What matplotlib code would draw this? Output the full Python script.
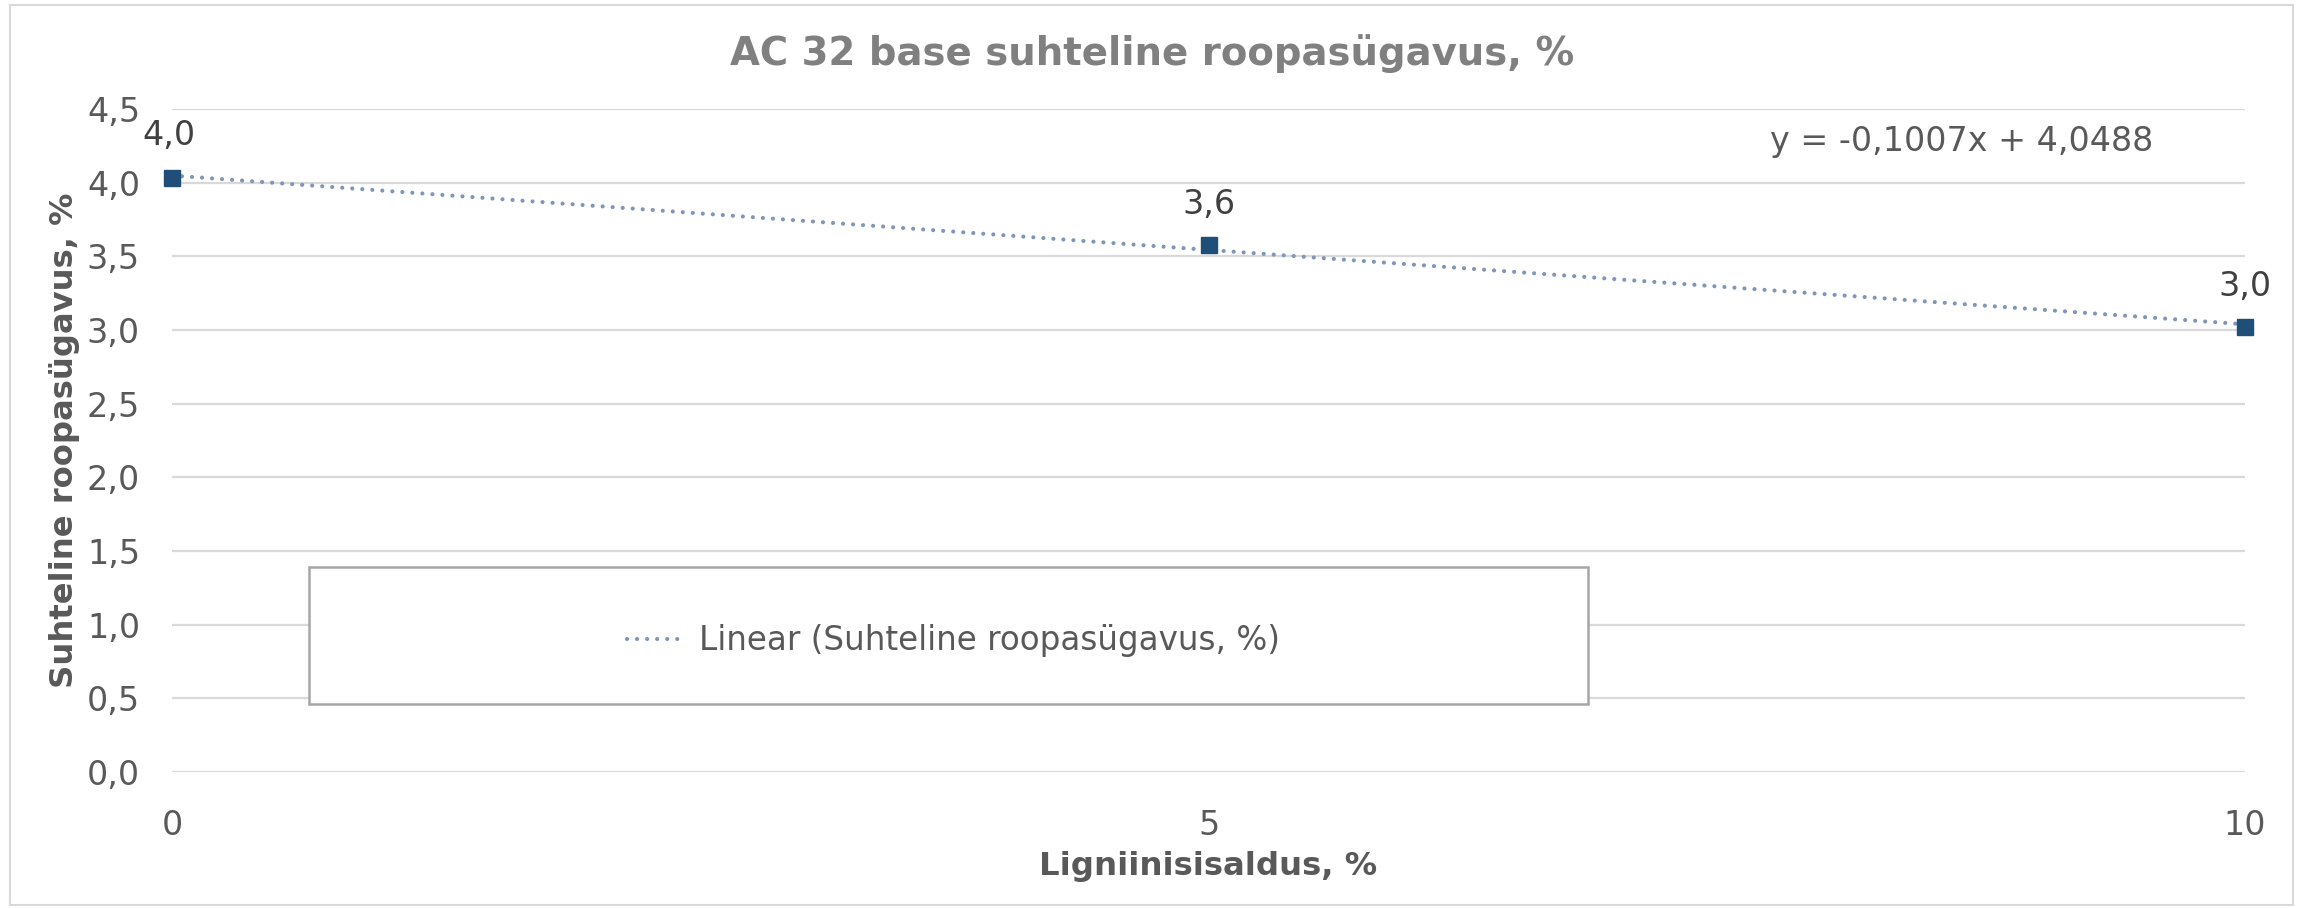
import numpy as np
import matplotlib
matplotlib.use("Agg")
import matplotlib.pyplot as plt
from matplotlib.patches import Rectangle

# andmed (loetud pildilt)
ligniin = [0, 5, 10]
roopasygavus = [4.03, 3.58, 3.02]
punkti_sildid = ["4,0", "3,6", "3,0"]
y_ticks = [0.0, 0.5, 1.0, 1.5, 2.0, 2.5, 3.0, 3.5, 4.0, 4.5]
x_ticks = [0, 5, 10]

GRID = "#D9D9D9"
TXT = "#595959"

plt.rcParams["font.family"] = ["DejaVu Sans"]

fig = plt.figure(figsize=(23.05, 9.08), dpi=100)
ax = fig.add_axes([0.0746, 0.1498, 0.974 - 0.0746, 0.880 - 0.1498])

# Exceli diagrammi raam
fig.patches.append(Rectangle((10 / 2305, 3 / 908), 2283 / 2305, 900 / 908,
                             transform=fig.transFigure, fill=False,
                             ec=GRID, lw=1.5))

# lineaarne trend
slope, icept = np.polyfit(ligniin, roopasygavus, 1)
xs = np.array([min(ligniin), max(ligniin)])
ax.plot(xs, slope * xs + icept, color="#7F96B8", lw=3.0,
        dashes=(0.01, 2.4), dash_capstyle="round", zorder=3,
        label="Linear (Suhteline roopasügavus, %)")

ax.plot(ligniin, roopasygavus, ls="", marker="s", ms=12, color="#1F4E79",
        zorder=4, clip_on=False)

for i, (x, y, s) in enumerate(zip(ligniin, roopasygavus, punkti_sildid)):
    if i == 0:
        ax.annotate(s, (x, y), xytext=(-2, 31), textcoords="offset points",
                    ha="center", va="center", fontsize=24, color="#404040",
                    arrowprops=dict(arrowstyle="-", color="#A6A6A6", lw=1.2,
                                    shrinkA=12, shrinkB=2))
    else:
        ax.annotate(s, (x, y), xytext=(0, 29), textcoords="offset points",
                    ha="center", va="center", fontsize=24, color="#404040")

ax.text(7.71, 4.28, "y = -0,1007x + 4,0488", fontsize=24, color=TXT,
        ha="left", va="center")

# legendi kast
ax.add_patch(Rectangle((0.066, 0.1026), 0.617, 0.2064, transform=ax.transAxes,
                       fc="white", ec="#A6A6A6", lw=1.8, zorder=5))
leg = ax.legend(loc="center", bbox_to_anchor=(0.377, 0.198), frameon=False,
                fontsize=23.5, handlelength=1.8, handletextpad=0.4,
                labelcolor=TXT)
leg.set_zorder(6)

ax.set_xlim(0, 10)
ax.set_ylim(0, 4.5)
ax.set_xticks(x_ticks)
ax.set_xticklabels([str(v) for v in x_ticks])
ax.set_yticks(y_ticks)
ax.set_yticklabels([f"{v:.1f}".replace(".", ",") for v in y_ticks])
ax.tick_params(length=0, labelsize=24, labelcolor=TXT)
ax.tick_params(axis="x", pad=27)
ax.tick_params(axis="y", pad=23)
ax.grid(axis="y", color=GRID, lw=1.6)
ax.set_axisbelow(True)
for sp in ax.spines.values():
    sp.set_visible(False)

ax.set_xlabel("Ligniinisisaldus, %", fontsize=23.3, fontweight="bold",
              color=TXT, labelpad=6)
ax.set_ylabel("Suhteline roopasügavus, %", fontsize=23.2, fontweight="bold",
              color=TXT)
ax.yaxis.set_label_coords(-0.0445, 0.5)
fig.text(0.5, 1 - 54 / 908, "AC 32 base suhteline roopasügavus, %",
         fontsize=27.8, fontweight="bold", color="#808080",
         ha="center", va="center")

fig.savefig("out.png", dpi=100)
